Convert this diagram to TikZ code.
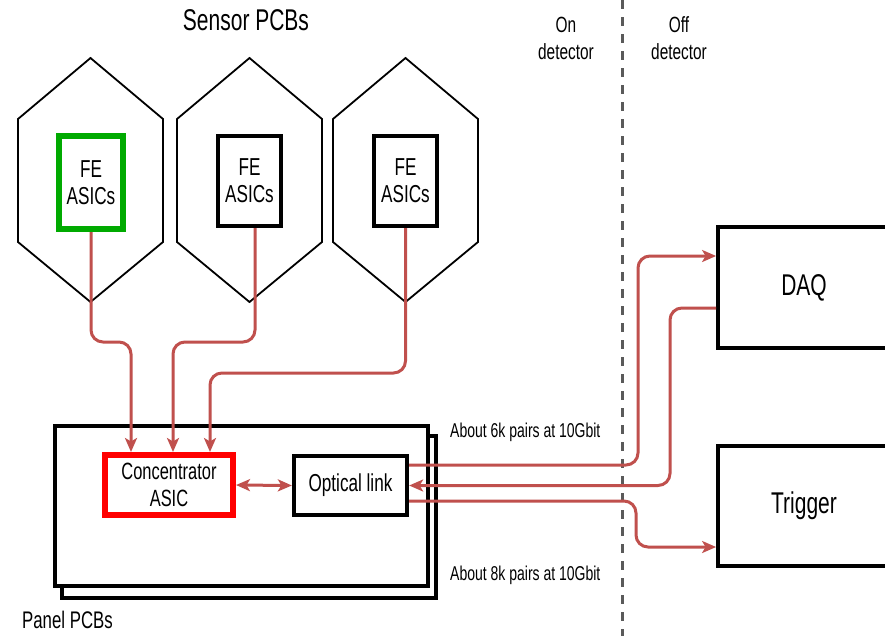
\documentclass[tikz,border=0pt]{standalone}
\usepackage{fontspec}
\setmainfont[FakeStretch=0.7]{Liberation Sans}
\usetikzlibrary{arrows.meta,calc}
\definecolor{conn}{HTML}{C0504D}
\definecolor{asicgreen}{HTML}{00AA00}
\definecolor{dashgray}{HTML}{5A5A5A}
\tikzset{
  hexa/.style={draw=black,line width=1.8pt,line join=miter},
  febox/.style={draw=black,line width=4pt,fill=white,minimum width=63pt,minimum height=90pt,inner sep=0pt,align=center,
     font=\fontsize{24.5}{27}\selectfont},
  blk/.style={draw=black,line width=3.8pt,fill=white,inner sep=0pt,align=center},
  wire/.style={draw=conn,line width=3pt,rounded corners=12pt},
  tip/.style={-{Stealth[length=14pt,width=12pt,inset=3.5pt]}},
  lbl/.style={inner sep=0pt,align=center}
}
\begin{document}
\begin{tikzpicture}[x=1pt,y=-1pt]
\useasboundingbox (0,0) rectangle (885,635);
\clip (0,0) rectangle (885,635);
\fill[white] (0,0) rectangle (885,635);

% hexagonal sensor PCBs
\foreach \c in {90.5,249.5,405.5}{
  \draw[hexa] (\c,58) -- (\c+72.5,119) -- (\c+72.5,242) -- (\c,302) -- (\c-72.5,242) -- (\c-72.5,119) -- cycle;
}
\node[lbl,font=\fontsize{30}{32}\selectfont] (sensor) at (246,20) {Sensor PCBs};

% FE ASICs
\node[febox,draw=asicgreen,line width=6pt,minimum width=64pt,minimum height=93pt] (fe1) at (91,182.5) {FE\\ASICs};
\node[febox] (fe2) at (249.5,181) {FE\\ASICs};
\node[febox] (fe3) at (405.5,181) {FE\\ASICs};

% panel PCBs
\node[blk,minimum width=374.5pt,minimum height=162.5pt] (panelback) at (249,517) {};
\node[blk,minimum width=373.5pt,minimum height=160.5pt] (panel) at (241.5,506) {};
\node[lbl,anchor=west,font=\fontsize{24}{27}\selectfont] (panellbl) at (22,620) {Panel PCBs};

\node[blk,draw=red,line width=6pt,minimum width=128pt,minimum height=60pt,font=\fontsize{23.5}{27}\selectfont] (conc) at (169,485) {Concentrator\\ASIC};
\node[blk,minimum width=113.5pt,minimum height=59.5pt,font=\fontsize{24.5}{27}\selectfont] (opt) at (350.5,485.5) {Optical link};

% detector boundary
\coordinate (dtop) at (622,0);
\coordinate (dbot) at (622,640);
\draw[dashgray,line width=3pt,dash pattern=on 9pt off 8pt] (dtop) -- (dbot);
\node[lbl,font=\fontsize{22}{27}\selectfont] (ondet) at (566,38) {On\\detector};
\node[lbl,font=\fontsize{22}{27}\selectfont] (offdet) at (679,38) {Off\\detector};

% DAQ and Trigger
\node[blk,minimum width=172pt,minimum height=121pt,font=\fontsize{30}{32}\selectfont] (daq) at (804,287.5) {DAQ};
\node[blk,minimum width=172pt,minimum height=120pt,font=\fontsize{30}{32}\selectfont] (trig) at (804,506) {Trigger};

% link labels
\node[lbl,anchor=west,font=\fontsize{20}{22}\selectfont] (l6k) at (450,432) {About 6k pairs at 10Gbit};
\node[lbl,anchor=west,font=\fontsize{20}{22}\selectfont] (l8k) at (450,575) {About 8k pairs at 10Gbit};

% FE -> concentrator
\coordinate (h1) at (131,342);
\coordinate (h2) at (173,342);
\coordinate (h3) at (210,373);
\draw[wire,tip] (fe1.south) |- (h1) -- (h1 |- conc.north);
\draw[wire,tip] ([xshift=5.5pt]fe2.south) |- (h2) -- (h2 |- conc.north);
\draw[wire,tip] (fe3.south) |- (h3) -- (h3 |- conc.north);

% concentrator <-> optical link
\draw[wire,{Stealth[length=14pt,width=12pt,inset=3.5pt]}-{Stealth[length=14pt,width=12pt,inset=3.5pt]}] (conc.east) -- (opt.west);

% optical link <-> DAQ / Trigger
\coordinate (o1) at ([yshift=20.5pt]opt.east);
\coordinate (d1) at ([yshift=31.5pt]daq.west);
\coordinate (c1) at (638,256);
\draw[wire,tip] (o1) -| (c1) -- (d1);

\coordinate (d2) at ([yshift=-20.5pt]daq.west);
\coordinate (c2) at (670,485.5);
\draw[wire,tip] (d2) -| (c2) -- (opt.east);

\coordinate (o3) at ([yshift=-15.5pt]opt.east);
\coordinate (t3) at ([yshift=-41pt]trig.west);
\coordinate (c3) at (636,547);
\draw[wire,tip] (o3) -| (c3) -- (t3);
\end{tikzpicture}
\end{document}
